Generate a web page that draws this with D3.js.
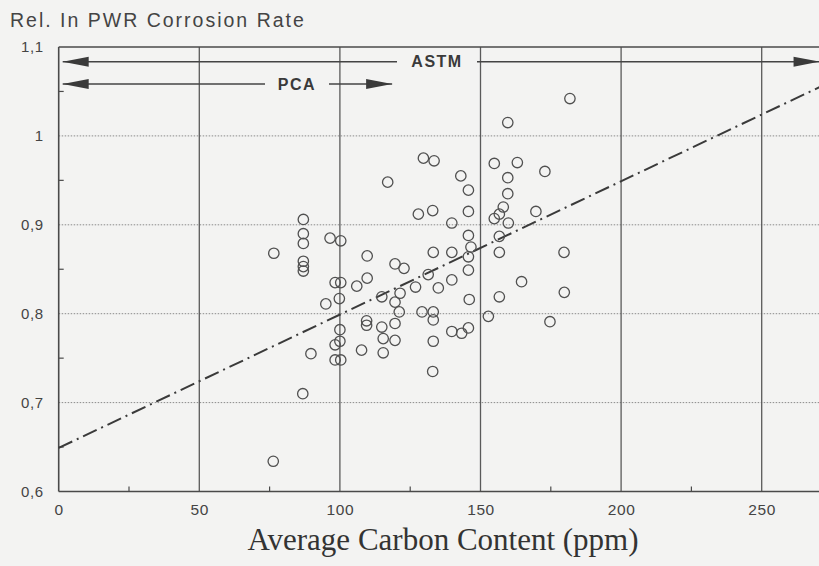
<!DOCTYPE html>
<html>
<head>
<meta charset="utf-8">
<script src="https://cdn.jsdelivr.net/npm/d3@7/dist/d3.min.js"></script>
<style>
  html, body { margin: 0; padding: 0; background: #f3f3f2; }
  svg { display: block; }
</style>
</head>
<body>
<script>
// ---- data ----
const carbonPpm = [
  76.5, 76.3, 87, 87, 87, 87, 87, 87, 86.8, 89.7,
  95, 96.5, 100.3, 98.3, 100.3, 99.8, 100, 100, 98.3, 98.3,
  100.3, 106, 107.7, 109.7, 109.7, 109.5, 109.5, 114.9, 114.9, 115.4,
  115.4, 117, 119.6, 119.6, 119.6, 119.6, 121.4, 121.1, 122.8, 126.9,
  129.2, 127.9, 129.7, 133.5, 133, 133.2, 131.4, 135, 133.2, 133.2,
  133.2, 133, 139.8, 139.8, 139.8, 139.8, 143.3, 145.7, 143, 145.7,
  145.7, 145.7, 146.6, 145.7, 145.7, 146, 152.8, 154.9, 154.9, 156.7,
  158.1, 159.9, 156.7, 156.7, 156.7, 159.7, 159.7, 159.7, 163.1, 164.6,
  169.7, 172.9, 174.7, 179.7, 179.8, 181.8
];
const corrosionRate = [
  0.868, 0.634, 0.906, 0.890, 0.879, 0.859, 0.853, 0.848, 0.710, 0.755,
  0.811, 0.885, 0.882, 0.835, 0.835, 0.817, 0.782, 0.769, 0.765, 0.748,
  0.748, 0.831, 0.759, 0.865, 0.840, 0.792, 0.787, 0.819, 0.785, 0.772,
  0.756, 0.948, 0.856, 0.813, 0.789, 0.770, 0.823, 0.802, 0.851, 0.830,
  0.802, 0.912, 0.975, 0.972, 0.916, 0.869, 0.844, 0.829, 0.802, 0.793,
  0.769, 0.735, 0.902, 0.869, 0.838, 0.780, 0.778, 0.784, 0.955, 0.939,
  0.915, 0.888, 0.875, 0.864, 0.849, 0.816, 0.797, 0.969, 0.907, 0.912,
  0.920, 0.902, 0.887, 0.869, 0.819, 1.015, 0.953, 0.935, 0.970, 0.836,
  0.915, 0.960, 0.791, 0.869, 0.824, 1.042
];
const fitX = [0, 272];
const fitY = [0.649, 1.057];
const xTicks = [0, 50, 100, 150, 200, 250];
const xMinorTicks = [25, 75, 125, 175, 225];
const yTicks = [0.6, 0.7, 0.8, 0.9, 1.0, 1.1];
const yTickLabels = ["0,6", "0,7", "0,8", "0,9", "1", "1,1"];
const yMinorTicks = [0.65, 0.75, 0.85, 0.95, 1.05];
const rangeLabels = ["ASTM", "PCA"];
const rangeEnds = [272, 120];   // ppm where each range arrow ends

// ---- layout ----
const W = 819, H = 566;
const pLeft = 58.7, pTop = 47, pBottom = 491.5;
const x = d3.scaleLinear().domain([0, 272]).range([pLeft, pLeft + 272 * 2.812]);
const y = d3.scaleLinear().domain([0.6, 1.1]).range([pBottom, pTop]);

const svg = d3.select("body").append("svg").attr("width", W).attr("height", H);
svg.append("rect").attr("width", W).attr("height", H).attr("fill", "#f3f3f2");

const ink = "#4a4a4a";

// horizontal dotted gridlines
svg.append("g").selectAll("line").data(yTicks.filter(v => v > 0.61 && v < 1.09)).join("line")
  .attr("x1", pLeft).attr("x2", W).attr("y1", d => y(d)).attr("y2", d => y(d))
  .attr("stroke", "#8a8a8a").attr("stroke-width", 1).attr("stroke-dasharray", "1.5,1.5");

// vertical solid gridlines
svg.append("g").selectAll("line").data(xTicks.filter(v => v > 0)).join("line")
  .attr("x1", d => x(d)).attr("x2", d => x(d)).attr("y1", pTop).attr("y2", pBottom)
  .attr("stroke", "#5a5a5a").attr("stroke-width", 1.3);

// frame: left, top, bottom
svg.append("line").attr("x1", pLeft).attr("x2", pLeft).attr("y1", pTop).attr("y2", pBottom)
  .attr("stroke", ink).attr("stroke-width", 1.6);
svg.append("line").attr("x1", pLeft).attr("x2", W).attr("y1", pTop).attr("y2", pTop)
  .attr("stroke", ink).attr("stroke-width", 1.6);
svg.append("line").attr("x1", pLeft).attr("x2", W).attr("y1", pBottom).attr("y2", pBottom)
  .attr("stroke", ink).attr("stroke-width", 1.6);

// minor ticks
svg.append("g").selectAll("line").data(xMinorTicks).join("line")
  .attr("x1", d => x(d)).attr("x2", d => x(d)).attr("y1", pBottom).attr("y2", pBottom - 5)
  .attr("stroke", ink).attr("stroke-width", 1.2);
svg.append("g").selectAll("line").data(yMinorTicks).join("line")
  .attr("x1", pLeft).attr("x2", pLeft + 5).attr("y1", d => y(d)).attr("y2", d => y(d))
  .attr("stroke", ink).attr("stroke-width", 1.2);

// axis tick labels via d3 axes (domain/tick lines hidden)
const xAxis = d3.axisBottom(x).tickValues(xTicks).tickSize(0).tickPadding(0);
const gx = svg.append("g").attr("transform", `translate(0,${pBottom + 12})`).call(xAxis);
gx.select(".domain").remove();
gx.selectAll("text").attr("font-family", "Liberation Sans, Arial, sans-serif")
  .attr("font-size", 15.5).attr("fill", "#444").attr("letter-spacing", 0.6);

const yAxis = d3.axisLeft(y).tickValues(yTicks).tickSize(0).tickPadding(0)
  .tickFormat((d, i) => yTickLabels[i]);
const gy = svg.append("g").attr("transform", `translate(${pLeft - 15},0)`).call(yAxis);
gy.select(".domain").remove();
gy.selectAll("text").attr("font-family", "Liberation Sans, Arial, sans-serif")
  .attr("font-size", 15).attr("fill", "#444").attr("letter-spacing", 0.6);

// range arrows (ASTM, PCA)
const arrowY = [61.7, 84];
const labelCx = [437, 297];
const gapHalf = [40, 32];
function arrowHead(xTip, yy, dir) {
  const len = 26, hw = 5;
  svg.append("path")
    .attr("d", `M${xTip},${yy} L${xTip + dir * len},${yy - hw} L${xTip + dir * len},${yy + hw} Z`)
    .attr("fill", "#3a3a3a");
}
rangeLabels.forEach((lab, i) => {
  const yy = arrowY[i];
  const x0 = x(0) + 4, x1 = x(rangeEnds[i]) - 4;
  svg.append("line").attr("x1", x0).attr("x2", labelCx[i] - gapHalf[i]).attr("y1", yy).attr("y2", yy)
    .attr("stroke", "#444").attr("stroke-width", 1.5);
  svg.append("line").attr("x1", labelCx[i] + gapHalf[i]).attr("x2", x1).attr("y1", yy).attr("y2", yy)
    .attr("stroke", "#444").attr("stroke-width", 1.5);
  arrowHead(x0, yy, 1);
  arrowHead(x1, yy, -1);
  svg.append("text").attr("x", labelCx[i]).attr("y", yy + 5.5).attr("text-anchor", "middle")
    .attr("font-family", "Liberation Sans, Arial, sans-serif").attr("font-weight", "bold")
    .attr("font-size", 16).attr("letter-spacing", 1.5).attr("fill", "#3a3a3a").text(lab);
});

// regression line (dash-dot)
svg.append("line")
  .attr("x1", x(fitX[0])).attr("y1", y(fitY[0])).attr("x2", x(fitX[1])).attr("y2", y(fitY[1]))
  .attr("stroke", "#3a3a3a").attr("stroke-width", 2).attr("stroke-dasharray", "15,5,2,5");

// scatter points
svg.append("g").selectAll("circle").data(carbonPpm.map((c, i) => [c, corrosionRate[i]])).join("circle")
  .attr("cx", d => x(d[0])).attr("cy", d => y(d[1])).attr("r", 5.2)
  .attr("fill", "none").attr("stroke", "#505050").attr("stroke-width", 1.3);

// titles
svg.append("text").attr("x", 10).attr("y", 27)
  .attr("font-family", "Liberation Sans, Arial, sans-serif").attr("font-size", 19.5)
  .attr("letter-spacing", 2).attr("fill", "#444").text("Rel. In PWR Corrosion Rate");
svg.append("text").attr("x", 443).attr("y", 550).attr("text-anchor", "middle")
  .attr("font-family", "Liberation Serif, Times New Roman, serif").attr("font-size", 31)
  .attr("fill", "#333").text("Average Carbon Content (ppm)");
</script>
</body>
</html>
